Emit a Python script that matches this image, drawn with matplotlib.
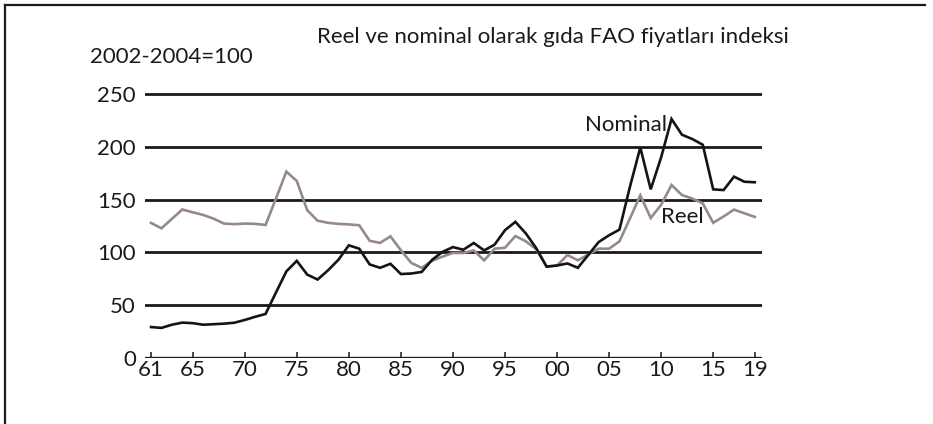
import matplotlib
matplotlib.use("Agg")
import matplotlib.pyplot as plt
from matplotlib.lines import Line2D

plt.rcParams['font.family'] = ['Lato', 'DejaVu Sans']

years = list(range(1961, 2020))
nominal = [29.3, 28.5, 31.5, 33.5, 33.0, 31.5, 32.0, 32.5, 33.4, 36.0,
           39.0, 41.7, 62.0, 82.0, 92.0, 79.0, 74.3, 83.0, 93.0, 106.7,
           103.5, 88.6, 85.4, 89.2, 79.5, 80.0, 81.5, 93.0, 100.5, 105.0,
           102.5, 108.9, 101.9, 107.3, 121.0, 128.9, 118.0, 104.0, 86.5, 87.6,
           89.5, 85.4, 97.5, 109.8, 116.2, 121.6, 162.0, 199.3, 159.7, 190.0,
           226.3, 211.4, 207.3, 201.9, 159.7, 159.0, 171.7, 166.9, 166.4]
real = [127.9, 122.8, 131.7, 140.6, 138.0, 135.5, 132.0, 127.3, 126.7, 127.3,
        127.0, 126.0, 151.0, 176.5, 167.6, 140.0, 130.0, 128.0, 127.0, 126.5,
        125.7, 111.0, 109.0, 115.2, 102.0, 90.0, 85.4, 92.0, 96.0, 99.5,
        99.4, 101.9, 92.4, 103.5, 104.4, 115.5, 110.5, 103.0, 86.5, 87.5,
        97.5, 92.5, 98.0, 103.5, 103.5, 110.5, 132.0, 154.0, 132.5, 145.0,
        163.8, 154.3, 151.0, 146.4, 128.0, 134.0, 140.5, 137.0, 133.6]

xtick_years = [1961, 1965, 1970, 1975, 1980, 1985, 1990, 1995, 2000, 2005, 2010, 2015, 2019]
xtick_labels = ['61', '65', '70', '75', '80', '85', '90', '95', '00', '05', '10', '15', '19']
ytick_vals = [0, 50, 100, 150, 200, 250]
ytick_labels = ['0', '50', '100', '150', '200', '250']

title = "Reel ve nominal olarak gıda FAO fiyatları indeksi"
unit_label = "2002-2004=100"
label_nominal = "Nominal"
label_real = "Reel"

FS = 16
W, H = 933, 424
fig = plt.figure(figsize=(W / 100, H / 100), dpi=100)
fig.patch.set_facecolor('white')

ax = fig.add_axes([145 / W, (H - 358) / H, (762 - 145) / W, (358 - 90.8) / H])
ax.set_xlim(1960.42, 2019.69)
ax.set_ylim(0, 253)
for s in ax.spines.values():
    s.set_visible(False)

for v in ytick_vals[1:]:
    ax.axhline(v, color='#1a1a1a', lw=2.0, zorder=1)
ax.axhline(0, color='#1a1a1a', lw=2.4, zorder=1)

ax.plot(years, real, color='#978a86', lw=1.9, zorder=2, solid_joinstyle='miter')
ax.plot(years, nominal, color='#141414', lw=1.9, zorder=3, solid_joinstyle='miter')

ax.set_xticks(xtick_years)
ax.set_xticklabels(xtick_labels)
ax.set_yticks(ytick_vals)
ax.set_yticklabels(ytick_labels)
ax.tick_params(axis='x', direction='in', length=4, width=1.1, color='#1a1a1a',
               pad=1.5, labelsize=FS, labelcolor='#1a1a1a')
ax.tick_params(axis='y', length=0, pad=6.5, labelsize=FS, labelcolor='#1a1a1a')

ax.text(2010.6, 220.6, label_nominal, ha='right', va='center', fontsize=FS, color='#1a1a1a')
ax.text(2010.0, 133.5, label_real, ha='left', va='center', fontsize=FS, color='#1a1a1a')

fig.text(553 / W, 1 - 37 / H, title, ha='center', va='center', fontsize=FS, color='#1a1a1a')
fig.text(90 / W, 1 - 57 / H, unit_label, ha='left', va='center', fontsize=FS, color='#1a1a1a')

fig.add_artist(Line2D([5 / W, 5 / W], [0, 1 - 5 / H], transform=fig.transFigure, color='#1a1a1a', lw=1.6))
fig.add_artist(Line2D([5 / W, 925 / W], [1 - 5 / H, 1 - 5 / H], transform=fig.transFigure, color='#1a1a1a', lw=1.6))

fig.savefig('out.png', dpi=100)
